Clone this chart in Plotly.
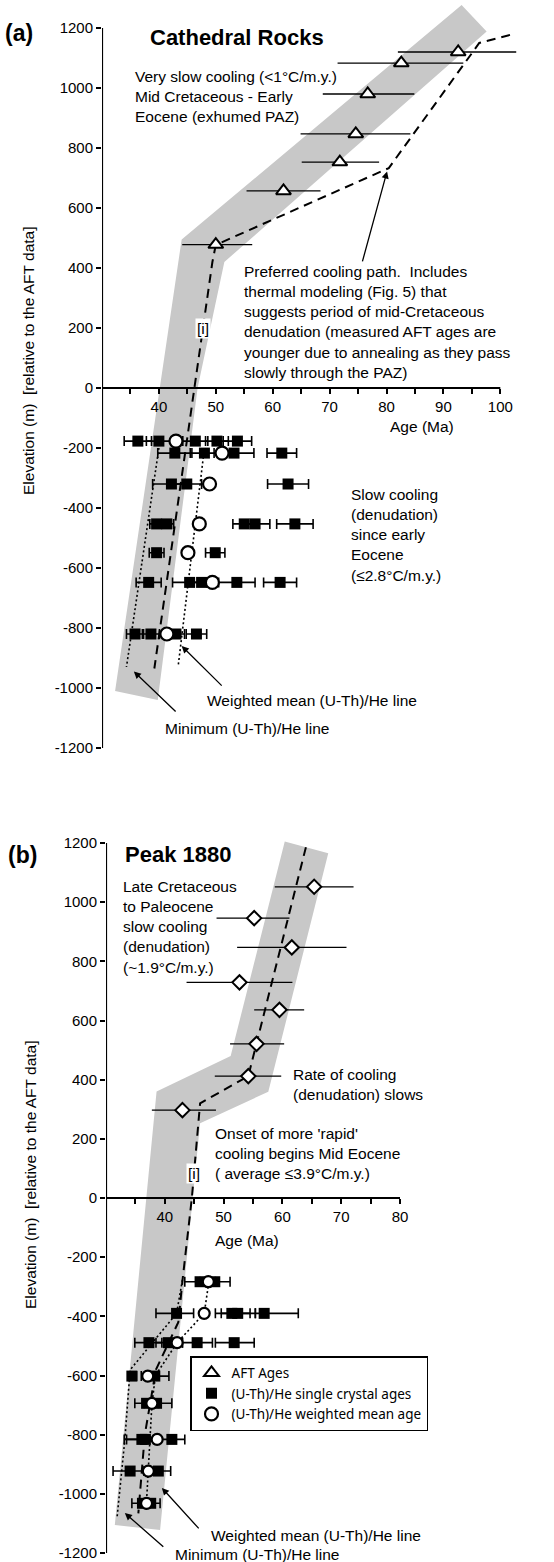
import plotly.graph_objects as go

W, H = 554, 1562
FONT = "Liberation Sans, Arial, Helvetica, sans-serif"
BAND = "rgb(200,200,200)"

# ---------------- Panel (a): Cathedral Rocks ----------------
a_aft_age = [92.6, 82.6, 76.7, 74.6, 71.8, 61.9, 50.0]
a_aft_elev = [1120, 1083, 980, 847, 753, 657, 478]
a_aft_lo = [82.0, 71.4, 68.8, 64.9, 65.1, 55.4, 44.1]
a_aft_hi = [102.8, 93.5, 84.9, 84.2, 78.7, 68.4, 56.4]

a_sq_age = [36.3, 40.0, 46.4, 50.2, 53.8,
            42.8, 48.0, 53.2, 61.6,
            42.2, 44.9, 62.7,
            39.6, 41.4, 55.0, 56.9, 63.9,
            39.6, 49.9,
            38.2, 45.4, 47.5, 53.7, 61.3,
            35.8, 38.6, 43.0, 46.6]
a_sq_elev = [-177, -177, -177, -177, -177,
             -217, -217, -217, -217,
             -320, -320, -320,
             -453, -453, -453, -453, -453,
             -549, -549,
             -648, -648, -648, -648, -648,
             -820, -820, -820, -820]
a_sq_err = [2.4, 2.2, 2.2, 2.0, 2.5,
            3.0, 2.5, 3.5, 2.6,
            3.3, 2.6, 3.6,
            1.2, 1.2, 2.0, 2.6, 3.2,
            1.3, 1.7,
            2.2, 3.0, 2.5, 3.2, 2.9,
            1.5, 1.5, 1.5, 1.8]

a_wm_age = [43.0, 51.1, 48.9, 47.1, 45.1, 49.4, 41.4]
a_wm_elev = [-177, -217, -320, -453, -549, -648, -820]

a_path_age = [101.7, 96.3, 80.4, 50.0, 49.4, 46.2, 39.2]
a_path_elev = [1177, 1150, 733, 477, 420, 0, -935]
a_min_age = [40.0, 34.3]
a_min_elev = [-200, -930]
a_wml_age = [48.0, 43.4]
a_wml_elev = [-200, -925]
a_band_age = [32.3, 44.0, 93.2, 97.6, 51.5, 46.8, 39.8, 32.3]
a_band_elev = [-1010, 495, 1277, 1188, 420, 0, -1040, -1010]

# ---------------- Panel (b): Peak 1880 ----------------
b_aft_age = [65.4, 55.2, 61.6, 52.7, 59.5, 55.6, 54.2, 43.0]
b_aft_elev = [1052, 946, 847, 729, 636, 521, 412, 297]
b_aft_lo = [58.7, 48.8, 52.3, 43.7, 55.2, 51.1, 48.5, 37.8]
b_aft_hi = [72.1, 61.2, 70.9, 61.7, 63.7, 60.3, 59.8, 48.7]

b_sq_age = [46.0, 48.5,
            42.0, 51.4, 52.4, 56.9,
            37.3, 40.6, 45.5, 51.8,
            34.4, 38.3,
            36.9, 38.6,
            36.1, 36.7, 41.2,
            34.1, 38.9,
            36.2, 37.6]
b_sq_elev = [-283, -283,
             -390, -390, -390, -390,
             -489, -489, -489, -489,
             -602, -602,
             -694, -694,
             -816, -816, -816,
             -923, -923,
             -1032, -1032]
b_sq_err_minus = [2.6, 2.5,
                  3.5, 2.8, 2.8, 1.5,
                  2.4, 2.1, 2.5, 3.2,
                  0.6, 2.3,
                  2.0, 2.1,
                  3.0, 3.2, 2.2,
                  2.9, 2.4,
                  1.8, 1.6]
b_sq_err_plus = [2.6, 2.6,
                 2.9, 3.1, 3.0, 5.8,
                 2.2, 2.4, 2.6, 3.4,
                 0.8, 2.4,
                 2.0, 2.6,
                 2.0, 2.3, 2.2,
                 2.4, 2.1,
                 1.3, 1.6]

b_wm_age = [47.4, 46.7, 42.1, 37.1, 37.8, 38.7, 37.2, 36.9]
b_wm_elev = [-283, -390, -489, -602, -694, -816, -923, -1032]

b_path_age = [64.0, 54.2, 46.0, 45.7, 44.6, 43.0, 42.3, 38.5, 36.6, 35.5]
b_path_elev = [1186, 412, 320, 253, 0, -280, -420, -580, -800, -1066]
b_min_age = [43.0, 42.0, 34.1, 33.2, 31.9]
b_min_elev = [-277, -390, -581, -818, -1076]
b_wml_age = [47.6, 46.7, 42.1, 38.4, 37.8, 37.3, 36.8]
b_wml_elev = [-270, -390, -489, -600, -700, -900, -1060]
b_band_age = [31.5, 38.6, 51.2, 60.4, 67.8, 57.6, 46.0, 39.2, 31.5]
b_band_elev = [-1105, 360, 480, 1205, 1165, 359, 253, -1122, -1105]

x_ticks = {"a": list(range(35, 105, 5)), "b": list(range(35, 85, 5))}
y_ticks = list(range(-1200, 1400, 200))

# ---------------- geometry (pixels) ----------------
A = dict(axis_px=102, px_per_ma=5.69, top=0, bot=760, zero=388, px_per_m=0.3, xend=100)
B = dict(axis_px=106, px_per_ma=5.88, top=800, bot=1562, zero=1198, px_per_m=0.29583, xend=80)


def axes_cfg(g):
    xr = [30, 30 + (W - g["axis_px"]) / g["px_per_ma"]]
    yr = [(g["zero"] - g["bot"]) / g["px_per_m"], (g["zero"] - g["top"]) / g["px_per_m"]]
    xdom = [g["axis_px"] / W, 1]
    ydom = [1 - g["bot"] / H, 1 - g["top"] / H]
    xpos = 1 - g["zero"] / H
    return xr, yr, xdom, ydom, xpos


fig = go.Figure()


def add_panel(xa, ya, band, path, minl, wml, aft, aft_symbol, aft_size, sq, wm, wm_size, legend):
    fig.add_trace(go.Scatter(x=band[0], y=band[1], fill="toself", fillcolor=BAND,
                             line=dict(width=0), mode="lines", hoverinfo="skip",
                             showlegend=False, xaxis=xa, yaxis=ya))
    fig.add_trace(go.Scatter(x=path[0], y=path[1], mode="lines",
                             line=dict(color="black", width=2, dash="9px,6px"),
                             showlegend=False, xaxis=xa, yaxis=ya))
    for ln in (minl, wml):
        fig.add_trace(go.Scatter(x=ln[0], y=ln[1], mode="lines",
                                 line=dict(color="black", width=1.6, dash="2px,2.5px"),
                                 showlegend=False, xaxis=xa, yaxis=ya))
    age, elev, lo, hi = aft
    fig.add_trace(go.Scatter(
        x=age, y=elev, mode="markers", name="AFT Ages", legendrank=1,
        showlegend=legend,
        marker=dict(symbol=aft_symbol, size=aft_size, color="white",
                    line=dict(color="black", width=2)),
        error_x=dict(type="data", symmetric=False,
                     array=[h - a for h, a in zip(hi, age)],
                     arrayminus=[a - l for a, l in zip(age, lo)],
                     color="black", thickness=1.3, width=0),
        xaxis=xa, yaxis=ya))
    sq_age, sq_elev, em, ep = sq
    fig.add_trace(go.Scatter(
        x=sq_age, y=sq_elev, mode="markers", name="(U-Th)/He single crystal ages",
        legendrank=2, showlegend=legend,
        marker=dict(symbol="square", size=11, color="black"),
        error_x=dict(type="data", symmetric=False, array=ep, arrayminus=em,
                     color="black", thickness=1.6, width=5),
        xaxis=xa, yaxis=ya))
    fig.add_trace(go.Scatter(
        x=wm[0], y=wm[1], mode="markers", name="(U-Th)/He weighted mean age",
        legendrank=3, showlegend=legend,
        marker=dict(symbol="circle", size=wm_size, color="white",
                    line=dict(color="black", width=2.2)),
        xaxis=xa, yaxis=ya))


add_panel("x", "y", (a_band_age, a_band_elev), (a_path_age, a_path_elev),
          (a_min_age, a_min_elev), (a_wml_age, a_wml_elev),
          (a_aft_age, a_aft_elev, a_aft_lo, a_aft_hi), "triangle-up", 13,
          (a_sq_age, a_sq_elev, a_sq_err, a_sq_err), (a_wm_age, a_wm_elev), 13, True)
add_panel("x2", "y2", (b_band_age, b_band_elev), (b_path_age, b_path_elev),
          (b_min_age, b_min_elev), (b_wml_age, b_wml_elev),
          (b_aft_age, b_aft_elev, b_aft_lo, b_aft_hi), "diamond", 11,
          (b_sq_age, b_sq_elev, b_sq_err_minus, b_sq_err_plus), (b_wm_age, b_wm_elev), 11, False)

tickfont = dict(family=FONT, size=15, color="black")


def xaxis(g, key):
    xr, yr, xdom, ydom, xpos = axes_cfg(g)
    vals = x_ticks[key]
    return dict(domain=xdom, range=xr, anchor="free", position=xpos, side="bottom",
                tickvals=vals, ticktext=[str(v) if v % 10 == 0 else "" for v in vals],
                ticks="outside", ticklen=5, tickwidth=1.5, tickcolor="black",
                showline=False, showgrid=False, zeroline=False, tickfont=tickfont,
                automargin=False, fixedrange=True)


def yaxis(g, anchor):
    xr, yr, xdom, ydom, xpos = axes_cfg(g)
    return dict(domain=ydom, range=yr, anchor=anchor, side="left",
                tickvals=y_ticks, ticktext=[str(v) for v in y_ticks],
                ticks="outside", ticklen=5, tickwidth=1.5, tickcolor="black",
                showline=False, showgrid=False, zeroline=False, tickfont=tickfont,
                automargin=False, fixedrange=True)


shapes = []
for xr_, yr_, g in (("x", "y", A), ("x2", "y2", B)):
    shapes.append(dict(type="line", xref=xr_, yref=yr_, x0=30, x1=30, y0=y_ticks[0], y1=y_ticks[-1],
                       line=dict(color="black", width=2.2)))
    shapes.append(dict(type="line", xref=xr_, yref=yr_, x0=30, x1=g["xend"], y0=0, y1=0,
                       line=dict(color="black", width=2.2)))


def ann(text, px, py, size=15.5, xanchor="left", yanchor="middle", bold=False, **kw):
    if bold:
        text = "<b>" + text + "</b>"
    return dict(text=text, x=px / W, y=1 - py / H, xref="paper", yref="paper",
                xanchor=xanchor, yanchor=yanchor, showarrow=False, align="left",
                font=dict(family=FONT, size=size, color="black"), **kw)


def arrow(xr_, yr_, tip, tail):
    return dict(text="", x=tip[0], y=tip[1], ax=tail[0], ay=tail[1], xref=xr_, yref=yr_,
                axref=xr_, ayref=yr_, showarrow=True, arrowhead=2, arrowsize=1.1,
                arrowwidth=1.3, arrowcolor="black")


NB = "\u00a0"
annotations = [
    ann("(a)", 19, 33, size=23, xanchor="center", bold=True),
    ann("Cathedral Rocks", 148, 37, size=22, bold=True),
    ann("Very slow cooling (<1°C/m.y.)<br>Mid Cretaceous - Early<br>Eocene (exhumed PAZ)",
        133, 66, yanchor="top"),
    ann("Preferred cooling path." + NB + " Includes<br>thermal modeling (Fig. 5) that<br>"
        "suggests period of mid-Cretaceous<br>denudation (measured AFT ages are<br>"
        "younger due to annealing as they pass<br>slowly through the PAZ)",
        242, 261, yanchor="top"),
    ann("[i]", 203, 328, xanchor="center", bgcolor="white"),
    ann("Age (Ma)", 422, 427, xanchor="center"),
    ann("Slow cooling<br>(denudation)<br>since early<br>Eocene<br>(≤2.8°C/m.y.)",
        349, 484, yanchor="top"),
    ann("Weighted mean (U-Th)/He line", 205, 700),
    ann("Minimum (U-Th)/He line", 163, 728),
    ann("Elevation (m)" + NB + NB + "[relative to the AFT data]", 28, 361,
        xanchor="center", textangle=-90),
    arrow("x", "y", (80.1, 722), (75.7, 417)),
    arrow("x", "y", (44.0, -860), (51.3, -997)),
    arrow("x", "y", (35.6, -945), (43.2, -1083)),

    ann("(b)", 22, 855, size=23, xanchor="center", bold=True),
    ann("Peak 1880", 123, 855, size=22, bold=True),
    ann("Late Cretaceous<br>to Paleocene<br>slow cooling<br>(denudation)<br>(~1.9°C/m.y.)",
        121, 876, yanchor="top"),
    ann("Rate of cooling<br>(denudation) slows", 291, 1064, yanchor="top"),
    ann("Onset of more 'rapid'<br>cooling begins Mid Eocene<br>( average ≤3.9°C/m.y.)",
        213, 1123, yanchor="top"),
    ann("[i]", 194, 1173, xanchor="center", bgcolor="white"),
    ann("Age (Ma)", 213, 1240),
    ann("Weighted mean (U-Th)/He line", 209, 1535),
    ann("Minimum (U-Th)/He line", 173, 1554),
    ann("Elevation (m)" + NB + NB + "[relative to the AFT data]", 30, 1175,
        xanchor="center", textangle=-90),
    arrow("x2", "y2", (39.5, -980), (46.0, -1122)),
    arrow("x2", "y2", (33.2, -1065), (40.0, -1183)),
]

fig.update_layout(
    width=W, height=H, margin=dict(l=0, r=0, t=0, b=0),
    paper_bgcolor="white", plot_bgcolor="rgba(0,0,0,0)",
    xaxis=xaxis(A, "a"), yaxis=yaxis(A, "x"),
    xaxis2=xaxis(B, "b"), yaxis2=yaxis(B, "x2"),
    shapes=shapes, annotations=annotations,
    showlegend=True,
    legend=dict(x=190 / W, y=1 - 1356 / H, xanchor="left", yanchor="top",
                bordercolor="black", borderwidth=1.5, bgcolor="white",
                font=dict(family="Noto Sans, Open Sans, sans-serif", size=13.5, color="black"),
                itemwidth=30, tracegroupgap=0),
    hovermode=False,
)

fig.write_html("out.html")
